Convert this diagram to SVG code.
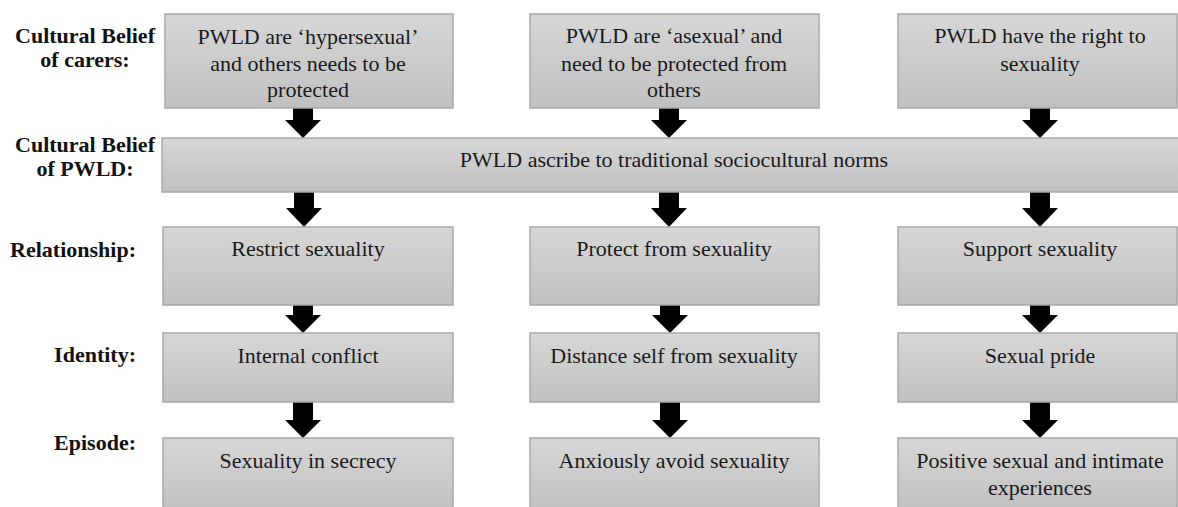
<svg xmlns="http://www.w3.org/2000/svg" width="1178" height="507" viewBox="0 0 1178 507">
<defs>
<linearGradient id="g" x1="0" y1="0" x2="0" y2="1">
<stop offset="0" stop-color="#d7d7d7"/>
<stop offset="1" stop-color="#c0c0c0"/>
</linearGradient>
<style>
.box{fill:url(#g);stroke:#a9a9a9;stroke-width:1.5}
.t{font-size:22px;fill:#1a1a1a;text-anchor:middle}
.l{font-size:22px;font-weight:bold;fill:#111}
.arr{fill:#000}
</style>
</defs>
<rect width="1178" height="507" fill="#fff"/>
<g id="labels" font-family="'Liberation Serif', serif">
<text class="l" x="85" y="43" text-anchor="middle">Cultural Belief</text>
<text class="l" x="85" y="67" text-anchor="middle">of carers:</text>
<text class="l" x="85" y="152" text-anchor="middle">Cultural Belief</text>
<text class="l" x="85" y="176" text-anchor="middle">of PWLD:</text>
<text class="l" x="136" y="257" text-anchor="end">Relationship:</text>
<text class="l" x="136" y="362" text-anchor="end">Identity:</text>
<text class="l" x="136" y="450" text-anchor="end">Episode:</text>
</g>
<g id="connectors">
<path class="arr" d="M293,108H313V120H321L303,138L285,120H293Z"/>
<path class="arr" d="M659,108H679V120H687L669,138L651,120H659Z"/>
<path class="arr" d="M1030,108H1050V120H1058L1040,138L1022,120H1030Z"/>
<path class="arr" d="M294,192H314V208H322L304,227L286,208H294Z"/>
<path class="arr" d="M659,192H679V208H687L669,227L651,208H659Z"/>
<path class="arr" d="M1030,192H1050V208H1058L1040,227L1022,208H1030Z"/>
<path class="arr" d="M293,305H313V315H321L303,333L285,315H293Z"/>
<path class="arr" d="M660,305H680V315H688L670,333L652,315H660Z"/>
<path class="arr" d="M1030,305H1050V315H1058L1040,333L1022,315H1030Z"/>
<path class="arr" d="M293,402H313V420H321L303,438L285,420H293Z"/>
<path class="arr" d="M660,402H680V420H688L670,438L652,420H660Z"/>
<path class="arr" d="M1030,402H1050V420H1058L1040,438L1022,420H1030Z"/>
</g>
<g font-family="'Liberation Serif', serif">
<g id="n-carer1"><rect class="box" x="165" y="14" width="288" height="94"/>
<text class="t" x="308" y="44">PWLD are ‘hypersexual’</text>
<text class="t" x="308" y="71">and others needs to be</text>
<text class="t" x="308" y="97">protected</text></g>
<g id="n-carer2"><rect class="box" x="530" y="14" width="289" height="94"/>
<text class="t" x="674" y="43">PWLD are ‘asexual’ and</text>
<text class="t" x="674" y="71">need to be protected from</text>
<text class="t" x="674" y="97">others</text></g>
<g id="n-carer3"><rect class="box" x="898" y="14" width="279" height="94"/>
<text class="t" x="1040" y="43">PWLD have the right to</text>
<text class="t" x="1040" y="71">sexuality</text></g>
<g id="n-pwld"><rect class="box" x="162" y="138" width="1020" height="54"/>
<text class="t" x="674" y="167">PWLD ascribe to traditional sociocultural norms</text></g>
<g id="n-rel1"><rect class="box" x="163" y="227" width="290" height="78"/>
<text class="t" x="308" y="256">Restrict sexuality</text></g>
<g id="n-rel2"><rect class="box" x="530" y="227" width="289" height="78"/>
<text class="t" x="674" y="256">Protect from sexuality</text></g>
<g id="n-rel3"><rect class="box" x="898" y="227" width="279" height="78"/>
<text class="t" x="1040" y="256">Support sexuality</text></g>
<g id="n-id1"><rect class="box" x="163" y="333" width="290" height="69"/>
<text class="t" x="308" y="363">Internal conflict</text></g>
<g id="n-id2"><rect class="box" x="530" y="333" width="289" height="69"/>
<text class="t" x="674" y="363">Distance self from sexuality</text></g>
<g id="n-id3"><rect class="box" x="898" y="333" width="279" height="69"/>
<text class="t" x="1040" y="363">Sexual pride</text></g>
<g id="n-ep1"><rect class="box" x="163" y="438" width="290" height="75"/>
<text class="t" x="308" y="468">Sexuality in secrecy</text></g>
<g id="n-ep2"><rect class="box" x="530" y="438" width="289" height="75"/>
<text class="t" x="674" y="468">Anxiously avoid sexuality</text></g>
<g id="n-ep3"><rect class="box" x="898" y="438" width="279" height="75"/>
<text class="t" x="1040" y="468">Positive sexual and intimate</text>
<text class="t" x="1040" y="495">experiences</text></g>
</g>
</svg>
